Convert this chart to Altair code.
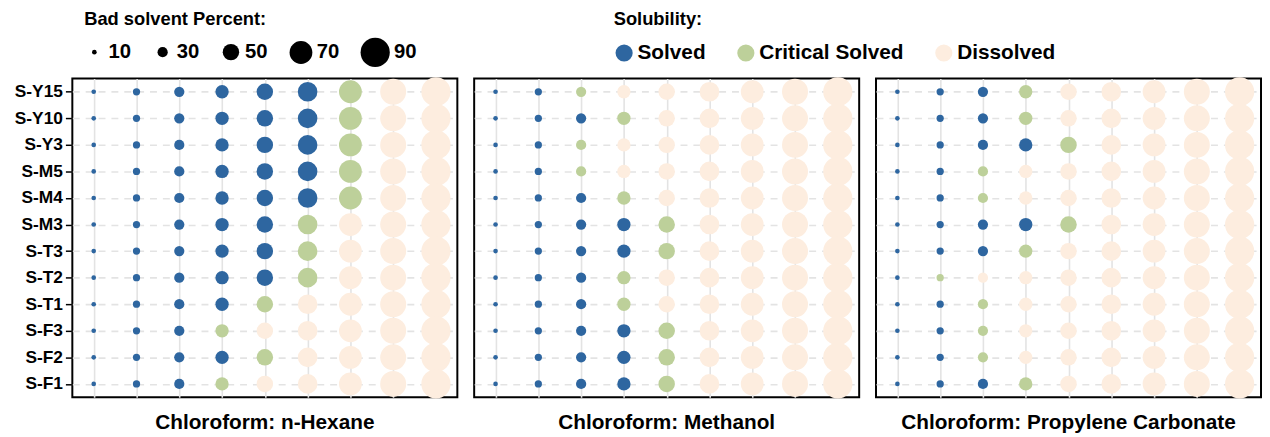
import altair as alt
import pandas as pd

rows = ["S-Y15", "S-Y10", "S-Y3", "S-M5", "S-M4", "S-M3",
        "S-T3", "S-T2", "S-T1", "S-F3", "S-F2", "S-F1"]
percents = [10, 20, 30, 40, 50, 60, 70, 80, 90]
panels = ["Chloroform: n-Hexane", "Chloroform: Methanol",
          "Chloroform: Propylene Carbonate"]

# S = Solved, C = Critical Solved, D = Dissolved ; one string per row, one letter per percent
hexane = ["SSSSSSCDD", "SSSSSSCDD", "SSSSSSCDD", "SSSSSSCDD", "SSSSSSCDD", "SSSSSCDDD",
          "SSSSSCDDD", "SSSSSCDDD", "SSSSCDDDD", "SSSCDDDDD", "SSSSCDDDD", "SSSCDDDDD"]
methanol = ["SSCDDDDDD", "SSSCDDDDD", "SSCDDDDDD", "SSCDDDDDD", "SSSCDDDDD", "SSSSCDDDD",
            "SSSSCDDDD", "SSSCDDDDD", "SSSCDDDDD", "SSSSCDDDD", "SSSSCDDDD", "SSSSCDDDD"]
propcarb = ["SSSCDDDDD", "SSSCDDDDD", "SSSSCDDDD", "SSCDDDDDD", "SSCDDDDDD", "SSSSCDDDD",
            "SSSCDDDDD", "SCDDDDDDD", "SSCDDDDDD", "SSCDDDDDD", "SSCDDDDDD", "SSSCDDDDD"]

status_names = {"S": "Solved", "C": "Critical Solved", "D": "Dissolved"}
status_order = ["Solved", "Critical Solved", "Dissolved"]
status_colors = ["#2E66A0", "#BDD09A", "#FDEDDF"]

records = []
for panel, codes in zip(panels, [hexane, methanol, propcarb]):
    for r, code in zip(rows, codes):
        for p, c in zip(percents, code):
            records.append({"panel": panel, "sample": r, "percent": p,
                            "status": status_names[c]})
df = pd.DataFrame(records)

FONT = "Liberation Sans"

base = alt.Chart(df).mark_circle(opacity=1).encode(
    x=alt.X("percent:O", sort=percents,
            scale=alt.Scale(type="point", padding=0.5),
            axis=alt.Axis(labels=False, ticks=False, domain=False, title=None,
                          grid=True, gridColor="#E3E3E3", gridWidth=1.6)),
    y=alt.Y("sample:N", sort=rows,
            scale=alt.Scale(type="point", padding=0.5),
            axis=alt.Axis(title=None, domain=False, ticks=True, tickSize=6,
                          tickColor="black", tickWidth=1.5,
                          labelFontSize=17.5, labelFontWeight="bold",
                          labelColor="black", labelPadding=3, labelFont=FONT,
                          grid=True, gridColor="#E3E3E3", gridWidth=1.6,
                          gridDash=[7, 6])),
    size=alt.Size("percent:Q",
                  scale=alt.Scale(type="pow", exponent=2, domain=[10, 90],
                                  range=[22, 870], zero=False),
                  legend=alt.Legend(title="Bad solvent Percent:",
                                    values=[10, 30, 50, 70, 90],
                                    orient="none", direction="horizontal",
                                    legendX=12, legendY=-69,
                                    symbolFillColor="black",
                                    symbolStrokeColor="black",
                                    symbolStrokeWidth=0,
                                    symbolOpacity=1,
                                    labelFontSize=20.5, labelFontWeight="bold",
                                    labelFont=FONT, labelColor="black",
                                    titleFontSize=18.5, titleFontWeight="bold",
                                    titleFont=FONT, titleColor="black",
                                    titleLimit=500,
                                    titlePadding=9, columnPadding=21,
                                    labelOffset=4)),
    color=alt.Color("status:N", sort=status_order,
                    scale=alt.Scale(domain=status_order, range=status_colors),
                    legend=alt.Legend(title="Solubility:",
                                      orient="none", direction="horizontal",
                                      legendX=547, legendY=-69,
                                      symbolType="circle", symbolSize=300,
                                      symbolStrokeWidth=0, symbolOpacity=1,
                                      labelFontSize=21, labelFontWeight="bold",
                                      labelFont=FONT, labelColor="black",
                                      titleFontSize=18.5, titleFontWeight="bold",
                                      titleFont=FONT, titleColor="black",
                                      titleLimit=500,
                                      titlePadding=14, columnPadding=30,
                                      labelOffset=3)),
).properties(width=389, height=322)

chart = base.facet(
    column=alt.Column("panel:N", sort=panels, title=None,
                      header=alt.Header(labelOrient="bottom", labelFontSize=21,
                                        labelFontWeight="bold", labelFont=FONT,
                                        labelColor="black", labelPadding=12))
).properties(
    spacing=15,
    padding={"left": 6, "top": 0, "right": 0, "bottom": 0}
).configure_view(
    stroke="black", strokeWidth=2
)

chart.save("out.html", embed_options={"renderer": "svg", "actions": False})
